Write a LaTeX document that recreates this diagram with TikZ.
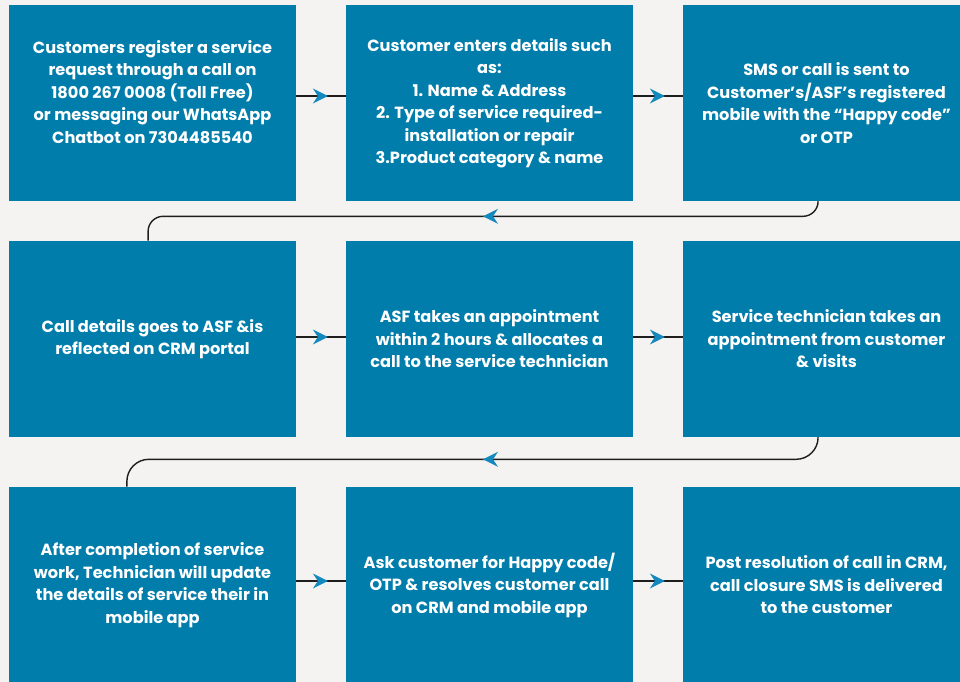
\documentclass[tikz,border=0pt]{standalone}
\usepackage{fontspec}
\setmainfont{Poppins}
\usetikzlibrary{arrows.meta,positioning,decorations.markings}
\definecolor{stepBlue}{HTML}{017DAB}
\definecolor{tipBlue}{HTML}{1389BD}
\definecolor{pageBg}{HTML}{F4F3F1}
\definecolor{linkInk}{HTML}{1E1E1E}

\begin{document}
\begin{tikzpicture}[x=0.025cm, y=-0.025cm,
    stepBox/.style={rectangle, fill=stepBlue, minimum width=7.175cm, minimum height=4.9cm, inner sep=0pt, text=white, font=\fontsize{11.5}{16}\selectfont\bfseries, align=center},
    link/.style={draw=linkInk, line width=1pt},
    tipAt/.style={postaction={decorate}, decoration={markings, mark=at position #1 with {\arrow{Stealth[length=3.75mm, width=3.75mm, inset=1.25mm, color=tipBlue]}}}}
  ]
  \useasboundingbox[fill=pageBg] (0,0) rectangle (960,682);
  \node[stepBox] (s1) at (152.5,103) {Customers register a service\\request through a call on\\1800 267 0008 (Toll Free)\\or messaging our WhatsApp\\Chatbot on 7304485540\\~};
  \node[stepBox] (s2) at (489.5,103) {Customer enters details such\\as:\\1. Name \& Address\\2. Type of service required-\\installation or repair\\3.Product category \& name};
  \node[stepBox] (s3) at (826.5,103) {SMS or call is sent to\\Customer’s/ASF’s registered\\mobile with the “Happy code”\\or OTP};
  \node[stepBox] (s4) at (152.5,339) {Call details goes to ASF \&is\\reflected on CRM portal};
  \node[stepBox] (s5) at (489.5,339) {ASF takes an appointment\\within 2 hours \& allocates a\\call to the service technician};
  \node[stepBox] (s6) at (826.5,339) {Service technician takes an\\appointment from customer\\\& visits};
  \node[stepBox] (s7) at (152.5,585) {After completion of service\\work, Technician will update\\the details of service their in\\mobile app};
  \node[stepBox] (s8) at (489.5,585) {Ask customer for Happy code/\\OTP \& resolves customer call\\on CRM and mobile app};
  \node[stepBox] (s9) at (826.5,585) {Post resolution of call in CRM,\\call closure SMS is delivered\\to the customer};

  \draw[link, tipAt=0.64] ([yshift=1.75mm]s1.east) -- ([yshift=1.75mm]s2.west);
  \draw[link, tipAt=0.64] ([yshift=1.75mm]s2.east) -- ([yshift=1.75mm]s3.west);
  \draw[link, rounded corners=3.75mm, tipAt=85.9mm] ([xshift=-2.1mm]s3.south) -- ++(0,15) -| ([xshift=-1.1mm]s4.north);
  \draw[link, tipAt=0.64] ([yshift=0.5mm]s4.east) -- ([yshift=0.5mm]s5.west);
  \draw[link, tipAt=0.64] ([yshift=0.5mm]s5.east) -- ([yshift=0.5mm]s6.west);
  \draw[link, rounded corners=5.5mm, tipAt=86.9mm] ([xshift=-2.1mm]s6.south) -- ++(0,22) -| ([xshift=-6.4mm]s7.north);
  \draw[link, tipAt=0.64] ([yshift=1mm]s7.east) -- ([yshift=1mm]s8.west);
  \draw[link, tipAt=0.64] ([yshift=1mm]s8.east) -- ([yshift=1mm]s9.west);
\end{tikzpicture}
\end{document}
